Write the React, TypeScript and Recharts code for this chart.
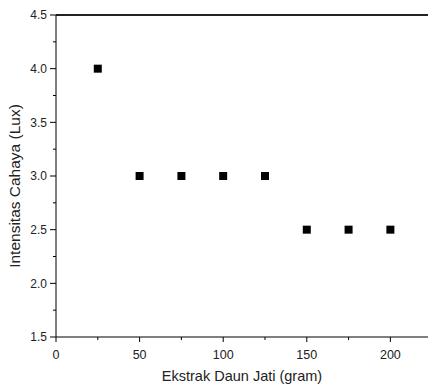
import React from 'react';
import { ScatterChart, Scatter, XAxis, YAxis, ZAxis } from 'recharts';

const ekstrak = [25, 50, 75, 100, 125, 150, 175, 200];
const intensitas = [4.0, 3.0, 3.0, 3.0, 3.0, 2.5, 2.5, 2.5];
const xTicks = [0, 50, 100, 150, 200];
const xMinorTicks = [25, 75, 125, 175];
const yTicks = [1.5, 2.0, 2.5, 3.0, 3.5, 4.0, 4.5];
const yMinorTicks = [1.75, 2.25, 2.75, 3.25, 3.75, 4.25];

const data = ekstrak.map((x, i) => ({ x, y: intensitas[i] }));

const fontFamily = '"Liberation Sans", Arial, sans-serif';
const X_MAJOR = 5;
const Y_MAJOR = 6;
const MINOR = 3;
const MARGIN_X = 8;
const MARGIN_Y = 3;

// draws tick line itself so minor ticks can be shorter and unlabeled
const XTick = (props: any) => {
  const { x, y, payload } = props;
  const axisY = y - X_MAJOR - MARGIN_X;
  const major = xTicks.includes(payload.value);
  return (
    <g>
      <line x1={x} x2={x} y1={axisY} y2={axisY + (major ? X_MAJOR : MINOR)} stroke="#000" />
      {major && (
        <text x={x} y={y} dy="0.71em" textAnchor="middle" fontSize={12.5} fill="#222" fontFamily={fontFamily}>
          {payload.value}
        </text>
      )}
    </g>
  );
};

const YTick = (props: any) => {
  const { x, y, payload } = props;
  const axisX = x + Y_MAJOR + MARGIN_Y;
  const major = yTicks.includes(payload.value);
  return (
    <g>
      <line x1={axisX} x2={axisX - (major ? Y_MAJOR : MINOR)} y1={y} y2={y} stroke="#000" />
      {major && (
        <text x={x} y={y} dy="0.355em" textAnchor="end" fontSize={12} fill="#222" fontFamily={fontFamily}>
          {payload.value.toFixed(1)}
        </text>
      )}
    </g>
  );
};

const YLabel = (props: any) => {
  const { viewBox } = props;
  const cx = viewBox.x + 14;
  const cy = viewBox.y + viewBox.height / 2 + 10;
  return (
    <text
      x={cx}
      y={cy}
      transform={`rotate(-90, ${cx}, ${cy})`}
      textAnchor="middle"
      dominantBaseline="central"
      fontSize={15.5}
      fill="#222"
      fontFamily={fontFamily}
    >
      Intensitas Cahaya (Lux)
    </text>
  );
};

const App: React.FC = () => {
  return (
    <div style={{ position: 'absolute', left: 0, top: 0, width: 428, height: 387, background: '#fff' }}>
      <ScatterChart width={428} height={387} margin={{ top: 15, right: 0, left: 0, bottom: 0 }}>
        <XAxis
          xAxisId="main"
          type="number"
          dataKey="x"
          domain={[0, 222.5]}
          ticks={[...xTicks, ...xMinorTicks].sort((a, b) => a - b)}
          interval={0}
          allowDataOverflow
          height={50}
          stroke="#000"
          tickLine={false}
          tickSize={X_MAJOR}
          tickMargin={MARGIN_X}
          tick={<XTick />}
          label={{ value: 'Ekstrak Daun Jati (gram)', position: 'insideBottom', offset: 6, style: { fontSize: 14.5, fill: '#222', fontFamily } }}
        />
        <XAxis
          xAxisId="top"
          orientation="top"
          type="number"
          domain={[0, 222.5]}
          ticks={[...xTicks, ...xMinorTicks]}
          interval={0}
          allowDataOverflow
          height={1}
          mirror
          stroke="#222"
          strokeWidth={2}
          tickSize={2}
          tick={false}
        />
        <YAxis
          yAxisId="main"
          type="number"
          dataKey="y"
          domain={[1.5, 4.5]}
          ticks={[...yTicks, ...yMinorTicks].sort((a, b) => a - b)}
          interval={0}
          width={56}
          stroke="#000"
          tickLine={false}
          tickSize={Y_MAJOR}
          tickMargin={MARGIN_Y}
          tick={<YTick />}
          label={{ content: <YLabel /> }}
        />
        <ZAxis range={[64, 64]} />
        <Scatter
          xAxisId="main"
          yAxisId="main"
          data={data}
          shape="square"
          fill="#000"
          isAnimationActive={false}
        />
      </ScatterChart>
    </div>
  );
};

export default App;
